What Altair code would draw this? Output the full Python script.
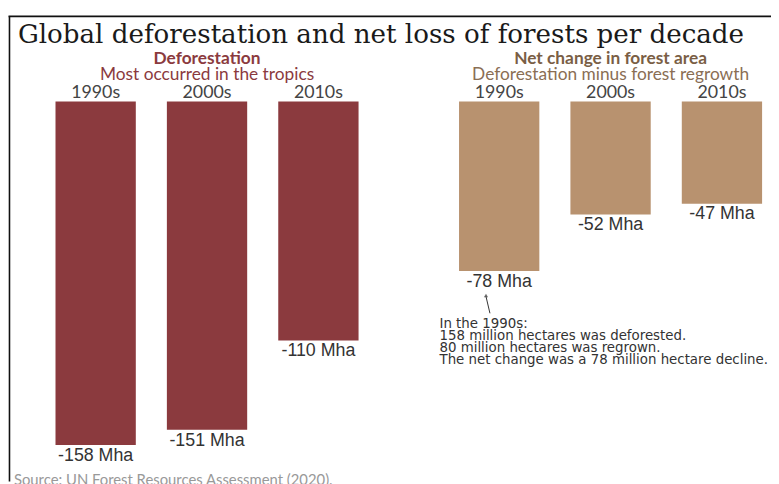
import altair as alt
import pandas as pd

# ---- data -------------------------------------------------------------
decades = ["1990s", "2000s", "2010s"]
deforestation = [-158, -151, -110]
net_change = [-78, -52, -47]
panels = ["Deforestation", "Net change"]
panel_titles = ["Deforestation", "Net change in forest area"]
panel_subtitles = ["Most occurred in the tropics", "Deforestation minus forest regrowth"]
main_title = "Global deforestation and net loss of forests per decade"
source_text = "Source: UN Forest Resources Assessment (2020)."
note_lines = [
    "In the 1990s:",
    "158 million hectares was deforested.",
    "80 million hectares was regrown.",
    "The net change was a 78 million hectare decline.",
]

# ---- styles -----------------------------------------------------------
bar_colors = ["#8B3A3E", "#B8926F"]
title_colors = ["#8B3A3E", "#7A5E45"]
sub_colors = ["#8B3A3E", "#8A6E54"]

rows = []
for p, vals in zip(panels, [deforestation, net_change]):
    for d, v in zip(decades, vals):
        rows.append({"panel": p, "decade": d, "value": v, "label": f"{v} Mha"})
df = pd.DataFrame(rows)
titles_df = pd.DataFrame({"panel": panels, "title": panel_titles, "subtitle": panel_subtitles})
one = pd.DataFrame({"a": [0]})

W, H = 771, 476
x_scale = alt.Scale(domain=panels, range=[48, 762], paddingInner=0.249, paddingOuter=0)
xo_scale = alt.Scale(domain=decades, paddingInner=0.279, paddingOuter=0)
y_scale = alt.Scale(domain=[0, -200], range=[92, 531.2], nice=False)

X = alt.X("panel:N", scale=x_scale, axis=None)
XO = alt.XOffset("decade:N", scale=xo_scale)

base = alt.Chart(df)

bars = base.mark_bar().encode(
    x=X, xOffset=XO,
    y=alt.Y("value:Q", scale=y_scale, axis=None),
    y2=alt.datum(0),
    color=alt.Color("panel:N", scale=alt.Scale(domain=panels, range=bar_colors), legend=None),
)

decade_labels = base.mark_text(font="Lato", fontSize=18, color="#444444", baseline="middle").encode(
    x=X, xOffset=XO, y=alt.value(83), text="decade:N"
)

value_labels = base.mark_text(font="Liberation Sans", fontSize=18, color="#333333",
                              baseline="middle", dy=11).encode(
    x=X, xOffset=XO, y=alt.Y("value:Q", scale=y_scale, axis=None), text="label:N"
)

layers = [bars, decade_labels, value_labels]

for p, tc, sc in zip(panels, title_colors, sub_colors):
    t = alt.Chart(titles_df).transform_filter(alt.datum.panel == p)
    layers.append(t.mark_text(font="Lato", fontSize=17.5, fontWeight="bold", color=tc, baseline="middle").encode(
        x=X, y=alt.value(49), text="title:N"))
    layers.append(t.mark_text(font="Lato", fontSize=17.5, color=sc, baseline="middle").encode(
        x=X, y=alt.value(65), text="subtitle:N"))

title = alt.Chart(one).mark_text(text=main_title, font="DejaVu Serif", fontSize=26.4, color="#1a1a1a",
                                 align="left", baseline="middle").encode(x=alt.value(10), y=alt.value(25))
source = alt.Chart(one).mark_text(text=source_text, font="Lato", fontSize=15, color="#999999",
                                  align="left", baseline="middle").encode(x=alt.value(6), y=alt.value(475))
note = alt.Chart(one).mark_text(text=note_lines, font="DejaVu Sans", fontSize=13.5, lineHeight=12,
                                color="#333333", align="left", baseline="top").encode(
    x=alt.value(436), y=alt.value(310))
arrow_line = alt.Chart(one).mark_rule(color="#333333", strokeWidth=1).encode(
    x=alt.value(487), y=alt.value(306), x2=alt.value(483), y2=alt.value(289))
arrow_head = alt.Chart(one).mark_point(shape="triangle-up", filled=True, size=18, color="#333333").encode(
    x=alt.value(483), y=alt.value(288))
frame_top = alt.Chart(one).mark_rule(color="#111111", strokeWidth=1.6).encode(
    x=alt.value(0.5), x2=alt.value(W), y=alt.value(6))
frame_left = alt.Chart(one).mark_rule(color="#111111", strokeWidth=1.6).encode(
    x=alt.value(1.5), y=alt.value(6), y2=alt.value(H))

layers += [title, source, note, arrow_line, arrow_head, frame_top, frame_left]

chart = alt.layer(*layers).properties(
    width=W, height=H, autosize=alt.AutoSizeParams(type="none"), padding=0, background="white"
).configure_view(stroke=None)

chart.save("out.html", embed_options={"renderer": "svg", "actions": False})
